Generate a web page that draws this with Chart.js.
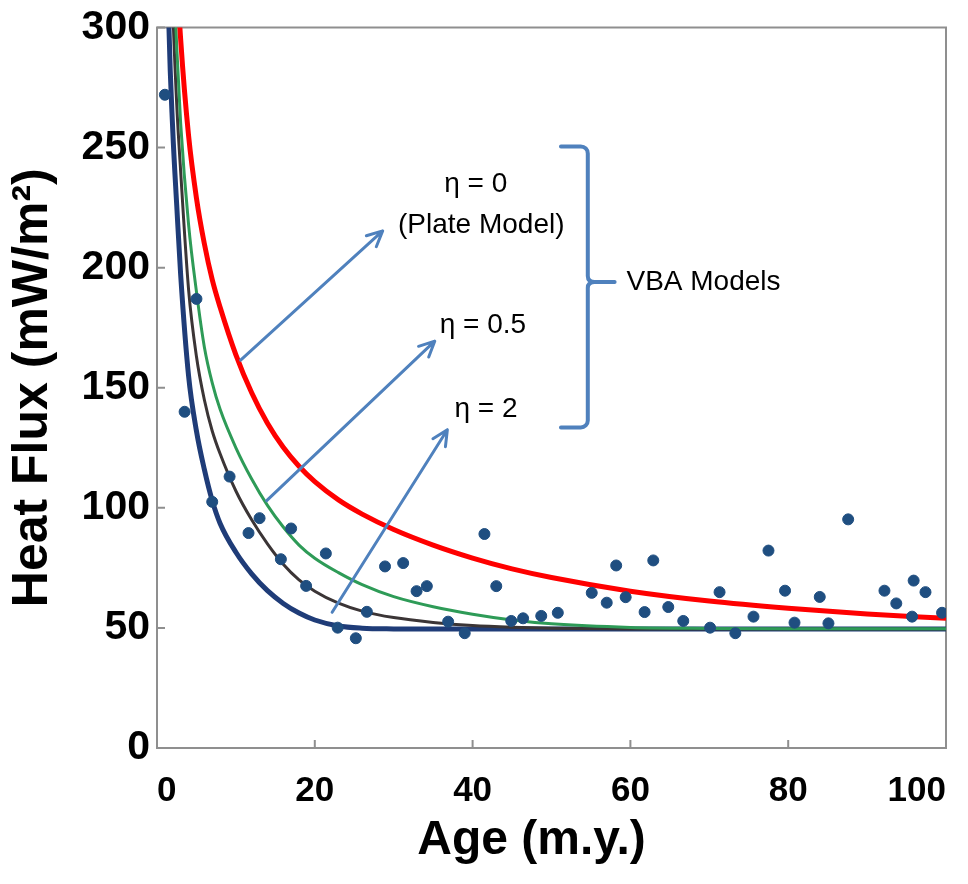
<!DOCTYPE html>
<html>
<head>
<meta charset="utf-8">
<script src="https://cdn.jsdelivr.net/npm/chart.js@4.4.1/dist/chart.umd.min.js"></script>
<style>
  body { margin: 0; background: #fff; }
  #wrap { width: 968px; height: 884px; }
</style>
</head>
<body>
<div id="wrap"><canvas id="heatFlux" width="968" height="884"></canvas></div>
<script>
// model curves, values at these ages (m.y.)
var curveAges = [1, 1.5, 2, 2.5, 3, 4, 5, 6, 7, 8, 10, 12, 14, 16, 18, 20, 23, 26, 30, 35, 40, 45, 50, 60, 70, 80, 90, 100];
var plateFlux = [528, 424, 364, 324, 295, 255, 229, 210, 195, 183.5, 163.7, 147.9, 135.2, 125.2, 117.3, 110.9, 103.3, 97.4, 91, 84.5, 79.1, 74.6, 71, 65.3, 61.2, 58.2, 55.8, 54]; // eta = 0
var eta05Flux = [540, 400, 335, 292, 260, 218, 190, 167, 152, 141, 125, 112, 101, 92, 84.5, 79, 73, 68, 63, 58.8, 55.7, 53.3, 51.7, 50.2, 49.8, 49.7, 49.7, 49.7];
var eta1Flux  = [480, 370, 308, 268, 240, 191, 163, 145, 132, 122.5, 107, 95, 85, 76.5, 70, 65.3, 60.3, 57, 54.3, 52.3, 51, 50.3, 49.9, 49.6, 49.6, 49.6, 49.6, 49.6];
var eta2Flux  = [400, 302, 257, 226, 197, 155, 132, 116, 103, 93.5, 81.5, 72.5, 65.5, 60.2, 56.2, 53.3, 50.8, 49.9, 49.6, 49.5, 49.5, 49.5, 49.5, 49.5, 49.5, 49.5, 49.5, 49.5];

// measured heat flux
var obsAge  = [1.0, 3.5, 5.0, 7.0, 9.2, 11.6, 13.0, 15.7, 17.0, 18.9, 21.4, 22.9, 25.2, 26.6, 28.9, 31.2, 32.9, 34.2, 36.9, 39.0,
               41.5, 43.0, 44.9, 46.4, 48.7, 50.8, 55.1, 57.0, 58.2, 59.4, 61.8, 62.9, 64.8, 66.7, 70.1, 71.3, 73.3, 75.6, 77.5, 79.6,
               80.8, 84.0, 85.1, 87.6, 92.2, 93.7, 95.7, 95.9, 97.4, 99.5];
var obsFlux = [272, 140, 187, 102.5, 113, 89.5, 95.7, 78.6, 91.4, 67.5, 81, 50.1, 45.7, 56.7, 75.6, 77, 65.3, 67.4, 52.6, 47.8,
               89.1, 67.4, 52.9, 54, 55, 56.3, 64.6, 60.5, 76, 62.8, 56.6, 78.1, 58.7, 52.9, 50.1, 64.9, 47.8, 54.7, 82.2, 65.5,
               52.2, 62.9, 51.9, 95.2, 65.5, 60.2, 54.7, 69.7, 64.9, 56.3];

var xTicks = [0, 20, 40, 60, 80, 100];
var yTicks = [0, 50, 100, 150, 200, 250, 300];

function pts(xs, ys) {
  return xs.map(function (x, i) { return { x: x, y: ys[i] }; });
}

function curve(label, data, color, width, order) {
  return {
    label: label,
    data: pts(curveAges, data),
    showLine: true,
    borderColor: color,
    borderWidth: width,
    pointRadius: 0,
    cubicInterpolationMode: 'monotone',
    order: order
  };
}

var annoBlue = '#4f81bd';

// frame round the plot and inward tick marks
var framePlugin = {
  id: 'frame',
  beforeDatasetsDraw: function (chart) {
    var ctx = chart.ctx, a = chart.chartArea, xs = chart.scales.x, ys = chart.scales.y;
    ctx.save();
    ctx.strokeStyle = '#8f8f8f';
    ctx.lineWidth = 2;
    ctx.strokeRect(a.left, a.top, a.right - a.left, a.bottom - a.top);
    ctx.beginPath();
    xTicks.forEach(function (v) {
      var px = xs.getPixelForValue(v);
      ctx.moveTo(px, a.bottom); ctx.lineTo(px, a.bottom - 8);
    });
    yTicks.forEach(function (v) {
      var py = ys.getPixelForValue(v);
      ctx.moveTo(a.left, py); ctx.lineTo(a.left + 8, py);
    });
    ctx.stroke();
    ctx.restore();
  }
};

// arrows, labels and the bracket, placed in data units
var arrows = [
  [10.6, 161.5, 28.6, 215.3],
  [13.9, 103, 35.2, 169.4],
  [22.2, 56.5, 36.8, 132.5]
];
var labels = [
  ['\u03b7 = 0', 40.4, 234.7],
  ['(Plate Model)', 41.1, 217.5],
  ['\u03b7 = 0.5', 41.3, 176.2],
  ['\u03b7 = 2', 41.7, 141]
];

function drawArrow(ctx, x1, y1, x2, y2) {
  var ang = Math.atan2(y2 - y1, x2 - x1), h = 17;
  ctx.beginPath();
  ctx.moveTo(x1, y1); ctx.lineTo(x2, y2);
  ctx.moveTo(x2 - h * Math.cos(ang - 0.45), y2 - h * Math.sin(ang - 0.45));
  ctx.lineTo(x2, y2);
  ctx.lineTo(x2 - h * Math.cos(ang + 0.45), y2 - h * Math.sin(ang + 0.45));
  ctx.stroke();
}

var notesPlugin = {
  id: 'notes',
  afterDatasetsDraw: function (chart) {
    var ctx = chart.ctx, xs = chart.scales.x, ys = chart.scales.y;
    var X = function (v) { return xs.getPixelForValue(v); };
    var Y = function (v) { return ys.getPixelForValue(v); };
    ctx.save();
    ctx.strokeStyle = annoBlue;
    ctx.lineWidth = 3;
    ctx.lineCap = 'round';
    ctx.lineJoin = 'round';
    arrows.forEach(function (r) { drawArrow(ctx, X(r[0]), Y(r[1]), X(r[2]), Y(r[3])); });

    // bracket
    var bx = X(54.6), bl = X(51.2), bt = Y(250.5), bb = Y(133.5), bm = Y(194), tip = X(58);
    ctx.lineWidth = 4;
    ctx.beginPath();
    ctx.moveTo(bl, bt);
    ctx.arcTo(bx, bt, bx, bt + 10, 7);
    ctx.lineTo(bx, bm - 6);
    ctx.quadraticCurveTo(bx, bm, bx + 7, bm);
    ctx.lineTo(tip, bm);
    ctx.moveTo(bx + 7, bm);
    ctx.quadraticCurveTo(bx, bm, bx, bm + 6);
    ctx.lineTo(bx, bb - 7);
    ctx.arcTo(bx, bb, bl, bb, 7);
    ctx.lineTo(bl, bb);
    ctx.stroke();

    ctx.fillStyle = '#000';
    ctx.font = '28px "Liberation Sans", Arial, sans-serif';
    ctx.textAlign = 'center';
    ctx.textBaseline = 'middle';
    labels.forEach(function (l) { ctx.fillText(l[0], X(l[1]), Y(l[2])); });
    ctx.textAlign = 'left';
    ctx.fillText('VBA Models', X(59.5), Y(194));
    ctx.restore();
  }
};

Chart.defaults.font.family = '"Liberation Sans", Arial, sans-serif';
Chart.defaults.color = '#000';

new Chart(document.getElementById('heatFlux'), {
  type: 'scatter',
  data: {
    datasets: [
      {
        label: 'Observed',
        data: pts(obsAge, obsFlux),
        backgroundColor: '#1f4e80',
        borderColor: '#1f4e80',
        pointRadius: 5.5,
        order: 0
      },
      curve('\u03b7 = 2', eta2Flux, '#1f3c78', 5, 4),
      curve('\u03b7 = 1', eta1Flux, '#3b3536', 3, 3),
      curve('\u03b7 = 0.5', eta05Flux, '#2e9b57', 3, 2),
      curve('\u03b7 = 0 (Plate Model)', plateFlux, '#ff0000', 5, 1)
    ]
  },
  options: {
    responsive: false,
    animation: false,
    layout: { padding: { top: 22, right: 21, left: 0, bottom: 0 } },
    plugins: { legend: { display: false }, tooltip: { enabled: false } },
    scales: {
      x: {
        type: 'linear',
        min: 0, max: 100,
        afterBuildTicks: function (s) { s.ticks = xTicks.map(function (v) { return { value: v }; }); },
        afterFit: function (s) { s.height = 136; },
        grid: { display: false, drawTicks: false },
        border: { display: false },
        ticks: {
          align: 'inner',
          padding: 22,
          font: { size: 35, weight: 'bold' }
        },
        title: {
          display: true,
          text: 'Age (m.y.)   ',
          font: { size: 48, weight: 'bold' },
          padding: { top: 0, bottom: 14 }
        }
      },
      y: {
        min: 0, max: 300,
        afterBuildTicks: function (s) { s.ticks = yTicks.map(function (v) { return { value: v }; }); },
        afterFit: function (s) { s.width = 157; },
        grid: { display: false, drawTicks: false },
        border: { display: false },
        ticks: {
          padding: 7,
          font: { size: 41, weight: 'bold', lineHeight: 1 }
        },
        title: {
          display: true,
          text: 'Heat Flux (mW/m\u00b2)',
          font: { size: 50, weight: 'bold' },
          padding: { top: 3, bottom: 0 }
        }
      }
    }
  },
  plugins: [framePlugin, notesPlugin]
});
</script>
</body>
</html>
